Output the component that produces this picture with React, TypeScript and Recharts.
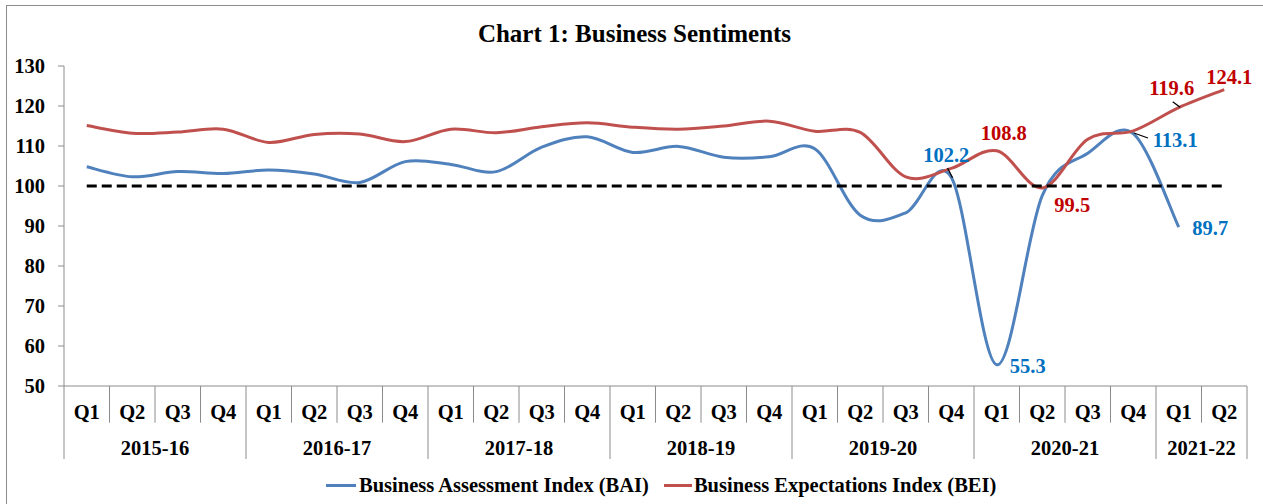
import React from 'react';
import { LineChart, Line, XAxis, YAxis, Legend, ReferenceLine, LabelList } from 'recharts';

// ---------------- data ----------------
const yearLabels = ['2015-16', '2016-17', '2017-18', '2018-19', '2019-20', '2020-21', '2021-22'];
const quartersInYear = [4, 4, 4, 4, 4, 4, 2];
const quarterNames = ['Q1', 'Q2', 'Q3', 'Q4'];

const baiValues: (number | null)[] = [
  104.8, 102.3, 103.6, 103.1,
  104.0, 103.0, 100.9, 106.1,
  105.4, 103.6, 109.7, 112.3,
  108.4, 109.9, 107.2, 107.3,
  109.3, 92.7, 93.3, 102.2,
  55.3, 97.6, 108.2, 113.1,
  89.7, null,
];

const beiValues: number[] = [
  115.1, 113.2, 113.5, 114.2,
  110.9, 112.9, 113.0, 111.1,
  114.2, 113.3, 114.8, 115.8,
  114.7, 114.2, 115.0, 116.2,
  113.7, 113.4, 102.3, 104.4,
  108.8, 99.5, 111.7, 113.8,
  119.6, 124.1,
];

const yTicks = [50, 60, 70, 80, 90, 100, 110, 120, 130];
const thresholdValue = 100;

const periods = yearLabels.flatMap((year, yi) =>
  quarterNames.slice(0, quartersInYear[yi]).map((quarter, qi) => ({
    year,
    quarter,
    first: qi === 0,
    count: quartersInYear[yi],
  }))
);

const data = periods.map((p, i) => ({
  period: `${p.year} ${p.quarter}`,
  year: p.year,
  quarter: p.quarter,
  first: p.first,
  count: p.count,
  bai: baiValues[i],
  bei: beiValues[i],
}));

// ---------------- style ----------------
const W = 1263;
const H = 504;
const FONT = '"Liberation Serif", "Times New Roman", serif';
const AXIS = '#8c8c8c';
const BLUE = '#4F81BD';
const RED = '#C0504D';
const BLUE_TXT = '#0070C0';
const RED_TXT = '#C00000';
const FS = 20.5;
const MARGIN = { top: 66, right: 16, bottom: 0, left: 0 };
const Y_AXIS_W = 64;
const X_AXIS_H = 118;
const BAND = (W - MARGIN.left - MARGIN.right - Y_AXIS_W) / data.length;

// Excel-like smoothed line (uniform Catmull-Rom as cubic Bezier)
function excelCurve(context: any) {
  let pts: [number, number][] = [];
  return {
    areaStart() {},
    areaEnd() {},
    lineStart() {
      pts = [];
    },
    lineEnd() {
      const n = pts.length;
      if (n === 0) return;
      context.moveTo(pts[0][0], pts[0][1]);
      if (n === 1) return;
      for (let i = 0; i < n - 1; i++) {
        const p0 = pts[i - 1] || pts[i];
        const p1 = pts[i];
        const p2 = pts[i + 1];
        const p3 = pts[i + 2] || pts[i + 1];
        context.bezierCurveTo(
          p1[0] + (p2[0] - p0[0]) / 6,
          p1[1] + (p2[1] - p0[1]) / 6,
          p2[0] - (p3[0] - p1[0]) / 6,
          p2[1] - (p3[1] - p1[1]) / 6,
          p2[0],
          p2[1]
        );
      }
    },
    point(x: number, y: number) {
      pts.push([+x, +y]);
    },
  };
}

type Spot = { dx: number; dy: number; leader?: [number, number, number, number] };
const baiLabelSpots: Record<number, Spot> = {
  19: { dx: -5, dy: -22, leader: [-3.7, -9.2, 1.3, 0.5] },
  20: { dx: 31, dy: 1 },
  23: { dx: 42, dy: 6, leader: [0.7, -0.6, 14.7, 4.4] },
  24: { dx: 31.5, dy: 1 },
};
const beiLabelSpots: Record<number, Spot> = {
  20: { dx: 7, dy: -18 },
  21: { dx: 30, dy: 17 },
  24: { dx: -7, dy: -20, leader: [-6, -5.9, 1.3, -0.3] },
  25: { dx: 5, dy: -13 },
};

function makeLabel(spots: Record<number, Spot>, color: string) {
  return (props: any) => {
    const { x, y, value, index } = props;
    const s = spots[index];
    if (!s || value == null) return null;
    return (
      <g>
        {s.leader && (
          <line
            x1={x + s.leader[0]}
            y1={y + s.leader[1]}
            x2={x + s.leader[2]}
            y2={y + s.leader[3]}
            stroke="#000"
            strokeWidth={1.3}
          />
        )}
        <text
          x={x + s.dx}
          y={y + s.dy}
          dy="0.34em"
          textAnchor="middle"
          fill={color}
          fontFamily={FONT}
          fontWeight="bold"
          fontSize={FS}
        >
          {Number(value).toFixed(1)}
        </text>
      </g>
    );
  };
}

function QuarterTick(props: any) {
  const { x, y, payload } = props;
  const i = payload.index;
  const row = data[i];
  if (!row) return null;
  const bw = BAND;
  const left = x - bw / 2;
  const right = x + bw / 2;
  return (
    <g>
      <line x1={left} x2={left} y1={y} y2={y + (row.first ? 73 : 36.7)} stroke={AXIS} strokeWidth={1} />
      {i === data.length - 1 && <line x1={right} x2={right} y1={y} y2={y + 73} stroke={AXIS} strokeWidth={1} />}
      <text x={x} y={y + 32.5} textAnchor="middle" fontFamily={FONT} fontWeight="bold" fontSize={FS} fill="#000">
        {row.quarter}
      </text>
      {row.first && (
        <text
          x={left + (bw * row.count) / 2}
          y={y + 69}
          textAnchor="middle"
          fontFamily={FONT}
          fontWeight="bold"
          fontSize={FS}
          fill="#000"
        >
          {row.year}
        </text>
      )}
    </g>
  );
}

function LegendContent() {
  const items = [
    { label: 'Business Assessment Index (BAI)', color: BLUE, sw: 30, gap: 3 },
    { label: 'Business Expectations Index (BEI)', color: RED, sw: 28, gap: 2 },
  ];
  return (
    <div style={{ display: 'flex', alignItems: 'center', paddingLeft: 326 }}>
      {items.map((it, k) => (
        <div key={k} style={{ display: 'flex', alignItems: 'center', marginRight: 15 }}>
          <div style={{ width: it.sw, height: 3, background: it.color, marginRight: it.gap }} />
          <span
            style={{
              fontFamily: FONT,
              fontWeight: 'bold',
              fontSize: FS,
              lineHeight: '20px',
              color: '#000',
              whiteSpace: 'nowrap',
            }}
          >
            {it.label}
          </span>
        </div>
      ))}
    </div>
  );
}

export default function App() {
  return (
    <div style={{ position: 'absolute', left: 0, top: 0, width: W, height: H, overflow: 'hidden', background: '#fff' }}>
      <div
        style={{
          position: 'absolute',
          left: 6,
          top: 5,
          width: W + 40,
          height: H + 40,
          border: `1px solid ${AXIS}`,
          boxSizing: 'border-box',
        }}
      />
      <div
        style={{
          position: 'absolute',
          left: 3,
          top: 21.4,
          width: W,
          textAlign: 'center',
          fontFamily: FONT,
          fontWeight: 'bold',
          fontSize: 25,
          lineHeight: '25px',
          color: '#000',
        }}
      >
        Chart 1: Business Sentiments
      </div>
      <div style={{ position: 'absolute', left: 0, top: 0 }}>
        <LineChart width={W} height={H} data={data} margin={MARGIN}>
          <XAxis
            dataKey="period"
            interval={0}
            height={X_AXIS_H}
            padding={{ left: BAND / 2, right: BAND / 2 }}
            tickLine={false}
            tickSize={0}
            tickMargin={0}
            axisLine={{ stroke: AXIS, strokeWidth: 1 }}
            tick={<QuarterTick />}
          />
          <YAxis
            domain={[50, 130]}
            ticks={yTicks}
            width={Y_AXIS_W}
            interval={0}
            tickSize={6}
            tickMargin={13}
            axisLine={{ stroke: AXIS, strokeWidth: 1 }}
            tickLine={{ stroke: AXIS, strokeWidth: 1 }}
            tick={{ fill: '#000', fontFamily: FONT, fontWeight: 'bold', fontSize: FS }}
          />
          <Line
            dataKey="bai"
            name="Business Assessment Index (BAI)"
            type={excelCurve as any}
            stroke={BLUE}
            strokeWidth={3}
            dot={false}
            activeDot={false}
            isAnimationActive={false}
          >
            <LabelList dataKey="bai" content={makeLabel(baiLabelSpots, BLUE_TXT)} />
          </Line>
          <Line
            dataKey="bei"
            name="Business Expectations Index (BEI)"
            type={excelCurve as any}
            stroke={RED}
            strokeWidth={3}
            dot={false}
            activeDot={false}
            isAnimationActive={false}
          >
            <LabelList dataKey="bei" content={makeLabel(beiLabelSpots, RED_TXT)} />
          </Line>
          <ReferenceLine
            segment={[
              { x: data[0].period, y: thresholdValue },
              { x: data[data.length - 1].period, y: thresholdValue },
            ]}
            stroke="#000"
            strokeWidth={3}
            strokeDasharray="10 5"
          />
          <Legend
            layout="horizontal"
            verticalAlign="middle"
            align="center"
            wrapperStyle={{ position: 'absolute', left: 0, top: 475, width: W }}
            content={<LegendContent />}
          />
        </LineChart>
      </div>
    </div>
  );
}
